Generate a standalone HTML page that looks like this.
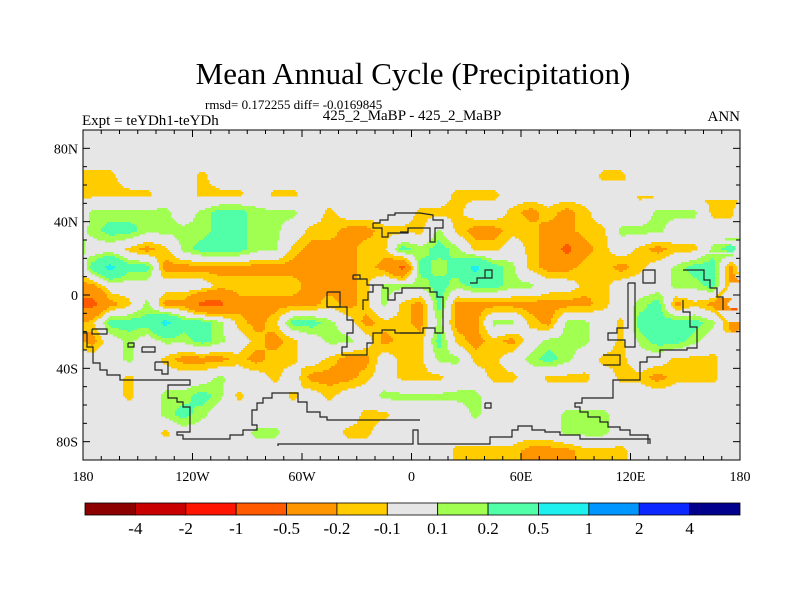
<!DOCTYPE html>
<html><head><meta charset="utf-8"><style>
html,body{margin:0;padding:0;background:#fff;}
svg{display:block;font-family:"Liberation Serif",serif;}
</style></head><body>
<svg id="chart" width="800" height="600" viewBox="0 0 800 600">
<text x="413" y="84" font-size="31" text-anchor="middle">Mean Annual Cycle (Precipitation)</text>
<text x="205" y="109" font-size="13">rmsd= 0.172255 diff= -0.0169845</text>
<text x="82" y="125" font-size="15">Expt = teYDh1-teYDh</text>
<text x="412" y="120" font-size="15" text-anchor="middle">425_2_MaBP - 425_2_MaBP</text>
<text x="740" y="121" font-size="15" text-anchor="end">ANN</text>
<defs><clipPath id="pc"><rect x="83" y="130" width="657" height="330"/></clipPath></defs>
<rect x="83" y="130" width="657" height="330" fill="#e6e6e6"/>
<g id="field" clip-path="url(#pc)"></g>
<g id="coast" fill="none" stroke="#222" stroke-width="1.2" clip-path="url(#pc)"></g>
<rect x="83" y="130" width="657" height="330" fill="none" stroke="#000" stroke-width="1"/>
<g id="axes"></g>
<g id="cbar"></g>
</svg>
<script>
const gridRows = [
"....................................",
"....................................",
"yy....y.....................yy....yy",
"yyyy..yyy.yy........yyy.......yyyyyy",
"ggggg.gttggg.y....yyy..yoyoy...gggyy",
"gttggggttgg.yyooyy"+"ygyooyyooyyggg....",
"..yoygtttggyoooyyt"+"gtgyy.yoroy.yoyygt",
"tcttoooooooooooyor"+"tgtctgyooyyoy.gtto",
"o......yyyyyoooygg"+"gtgttgg..yy...ggto",
"roygoorroooooyoygy"+"otooooooooy.gtoyor",
"ytttcttgyoyttg.oyy"+"ogooggyogg.yttttgo",
"o.g.ggtg.yoy.gg.oy"+"ytyoyo.ggg.ygttg.y",
"..g.yoooyoyy.yoo.y"+"yggyy.gtg.yy..yyy.",
"..y....g..y.oooy.y"+"yy..yy.yyy.yyoyyy.",
"..y.ggtgy..y.y..gg"+"gggg..............",
"....gtg........yy."+"...g....ggg.......",
"....y....gg...yy.."+"........ggg.......",
".................."+"..yyyyoooyyy......"
];
const codeValues = {".":0,"y":-0.138,"o":-0.26,"r":-0.6,"g":0.138,"t":0.27,"c":0.6};
const values = gridRows.map(r => r.padEnd(36,".").slice(0,36).split("").map(c => codeValues[c]));
const levels = [-4,-2,-1,-0.5,-0.2,-0.1,0.1,0.2,0.5,1,2,4];
const levelLabels = ["-4","-2","-1","-0.5","-0.2","-0.1","0.1","0.2","0.5","1","2","4"];
const colors = ["#8c0000","#c80000","#ff1400","#ff5a00","#ff9600","#ffcc00","#e6e6e6","#a0ff50","#50ffa8","#1ef0f0","#0096ff","#0a28ff","#00008c"];
const lonTicks = [-180,-120,-60,0,60,120,180];
const lonLabels = ["180","120W","60W","0","60E","120E","180"];
const latTicks = [80,40,0,-40,-80];
const latLabels = ["80N","40N","0","40S","80S"];

const NS="http://www.w3.org/2000/svg";
const X0=83,X1=740,Y0=130,Y1=460;
const xOf = lon => X0 + (lon+180)/360*(X1-X0);
const yOf = lat => Y0 + (90-lat)/180*(Y1-Y0);
function colorOf(v){let k=0;while(k<levels.length&&v>=levels[k])k++;return colors[k];}
function sample(lon,lat){
  const nr=values.length,nc=values[0].length;
  let fx=(lon+180)/360*nc-0.5, fy=(90-lat)/180*nr-0.5;
  fy=Math.max(0,Math.min(nr-1,fy));
  const i0=Math.floor(fy),i1=Math.min(nr-1,i0+1),ty=fy-i0;
  const j0=Math.floor(fx),tx=fx-j0;
  const ja=((j0%nc)+nc)%nc,jb=(ja+1)%nc;
  const a=values[i0][ja]*(1-tx)+values[i0][jb]*tx;
  const b=values[i1][ja]*(1-tx)+values[i1][jb]*tx;
  return a*(1-ty)+b*ty;
}
const field=document.getElementById("field");
const step=2;
for(let y=Y0;y<Y1;y+=step){
  const lat=90-(y+step/2-Y0)/(Y1-Y0)*180;
  let runStart=X0,runCol=null;
  for(let x=X0;x<=X1;x+=step){
    const col = x<X1 ? colorOf(sample((x+step/2-X0)/(X1-X0)*360-180,lat)) : null;
    if(col!==runCol){
      if(runCol && runCol!=="#e6e6e6"){
        const r=document.createElementNS(NS,"rect");
        r.setAttribute("x",runStart);r.setAttribute("y",y);
        r.setAttribute("width",x-runStart+0.5);r.setAttribute("height",step+0.5);
        r.setAttribute("fill",runCol);
        
        
        field.appendChild(r);
      }
      runStart=x;runCol=col;
    }
  }
}
const coastPaths=[
"83,333 87,333 87,347 93,347 93,363 100,363 100,370 107,370 107,375 120,375 120,380 190,380 190,385 168,385 168,398 177,398 177,402 183,402 183,407 190,407 190,432 177,432 177,435 183,435 183,439 230,439 230,435 243,435 243,430 257,430 257,425 252,425 252,410 257,410 257,403 263,403 263,398 272,398 272,393 298,393 298,402 307,402 307,412 320,412 320,417 327,417 327,420 420,420",
"278,446 278,444 413,444 413,430 418,430 418,444 490,444 490,437 512,437 512,430 518,430 518,426 532,426 532,430 545,430 545,432 560,432 560,435 580,435 580,439 650,439 650,444",
"683,300 683,312 690,312 690,327 697,327 697,348 687,348 687,350 660,350 660,357 647,357 647,362 640,362 640,380 613,380 613,398 582,398 582,403 575,403 575,407 580,407 580,412 588,412 588,417 600,417 600,422 608,422 608,427 620,427 620,430 630,430 630,435 648,435 648,444",
"628,283 635,283 635,347 625,347 625,340 608,340 608,333 617,333 617,328 628,328 628,283",
"683,270 704,270 704,280 710,280 710,288 717,288 717,297 723,297 723,310",
"327,300 327,307 347,307 347,320 353,320 353,333 347,333 347,347 342,347 342,355 367,355 367,343 373,343 373,333 382,333 382,330 395,330 395,333 420,333",
"327,292 340,292 340,307 327,307 327,292",
"353,275 360,275 360,279 353,279 353,275",
"360,279 367,279 367,285 373,285 373,292 368,292 368,300 363,300 363,310",
"373,285 383,285 383,288 388,288 388,300 395,300 395,293 402,293 402,288 415,288 430,288 430,292 437,292 437,297 443,297 443,333 435,333 435,328 423,328 423,333 400,333",
"373,223 380,223 380,220 388,220 388,215 395,215 395,213 420,213 433,215 433,220 443,220 443,228 435,228 435,242 430,242 430,228 408,228 408,232 400,232",
"373,223 373,228 382,228 382,237 388,237 388,233 408,233 408,228",
"470,283 477,283 477,278 485,278 485,270 492,270 492,278 485,278",
"643,270 655,270 655,283 643,283 643,270",
"92,329 107,329 107,334 92,334 92,329",
"128,343 134,343 134,347 128,347 128,343",
"142,347 155,347 155,352 142,352 142,347",
"155,362 168,362 168,374 162,374 162,370 155,370 155,362",
"485,403 491,403 491,408 485,408 485,403",
"603,355 620,355 620,365 603,365"
];
const coast=document.getElementById("coast");
coastPaths.forEach(p=>{const l=document.createElementNS(NS,"polyline");l.setAttribute("points",p);


coast.appendChild(l);});
const axes=document.getElementById("axes");
function line(x1,y1,x2,y2,name){const l=document.createElementNS(NS,"line");l.setAttribute("x1",x1);l.setAttribute("y1",y1);l.setAttribute("x2",x2);l.setAttribute("y2",y2);l.setAttribute("stroke","#000");l.setAttribute("stroke-width","1");


axes.appendChild(l);}
function text(x,y,s,anchor,size,name,parent){const t=document.createElementNS(NS,"text");t.setAttribute("x",x);t.setAttribute("y",y);t.setAttribute("text-anchor",anchor);t.setAttribute("font-size",size);t.textContent=s;


(parent||axes).appendChild(t);}
for(let lon=-180;lon<=180;lon+=10){const x=xOf(lon);const len=(lon%60===0)?7:4;line(x,Y0,x,Y0+len,"x-tick-top");line(x,Y1,x,Y1-len,"x-tick-bottom");}
for(let lat=-90;lat<=90;lat+=10){const y=yOf(lat);const len=(lat%40===0)?7:4;line(X0,y,X0+len,y,"y-tick-left");line(X1,y,X1-len,y,"y-tick-right");}
lonTicks.forEach((lon,i)=>text(xOf(lon),481,lonLabels[i],"middle",14,"x-tick-label"));
latTicks.forEach((lat,i)=>text(78,yOf(lat)+5,latLabels[i],"end",14,"y-tick-label"));
const cbar=document.getElementById("cbar");
const CX0=85,CX1=740,CY=503,CH=12,bw=(CX1-CX0)/colors.length;
colors.forEach((c,i)=>{const r=document.createElementNS(NS,"rect");r.setAttribute("x",CX0+i*bw);r.setAttribute("y",CY);r.setAttribute("width",bw);r.setAttribute("height",CH);r.setAttribute("fill",c);r.setAttribute("stroke","#000");r.setAttribute("stroke-width","0.8");


cbar.appendChild(r);});
levelLabels.forEach((s,i)=>text(CX0+(i+1)*bw,534,s,"middle",17,"colorbar-label",cbar));
</script>
</body></html>
